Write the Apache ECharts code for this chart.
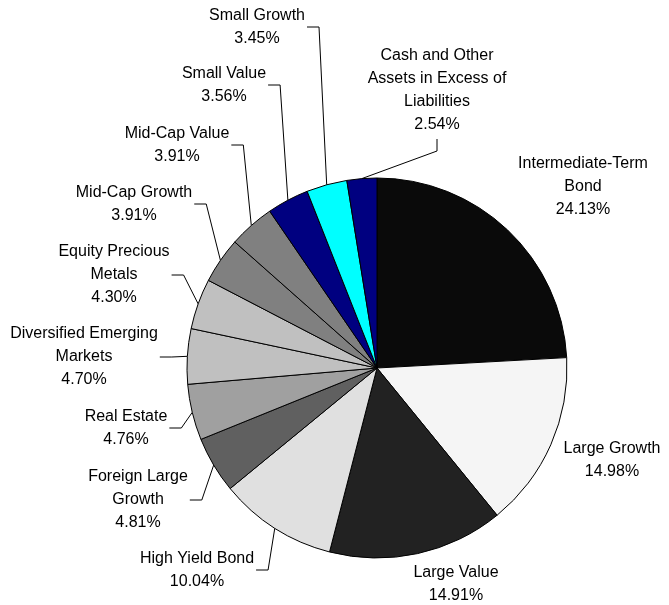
<!DOCTYPE html>
<html>
<head>
<meta charset="utf-8">
<script src="https://cdn.jsdelivr.net/npm/echarts@6/dist/echarts.min.js"></script>
<style>
html,body{margin:0;padding:0;background:#fff;}
#chart{width:669px;height:605px;}
</style>
</head>
<body>
<div id="chart"></div>
<script>
var categories = [
  "Intermediate-Term Bond", "Large Growth", "Large Value", "High Yield Bond",
  "Foreign Large Growth", "Real Estate", "Diversified Emerging Markets",
  "Equity Precious Metals", "Mid-Cap Growth", "Mid-Cap Value", "Small Value",
  "Small Growth", "Cash and Other Assets in Excess of Liabilities"
];
var labelTexts = [
  "Intermediate-Term\nBond", "Large Growth", "Large Value", "High Yield Bond",
  "Foreign Large\nGrowth", "Real Estate", "Diversified Emerging\nMarkets",
  "Equity Precious\nMetals", "Mid-Cap Growth", "Mid-Cap Value", "Small Value",
  "Small Growth", "Cash and Other\nAssets in Excess of\nLiabilities"
];
var values = [24.13, 14.98, 14.91, 10.04, 4.81, 4.76, 4.70, 4.30, 3.91, 3.91, 3.56, 3.45, 2.54];

var colors = ["#0a0a0a", "#f5f5f5", "#222222", "#e0e0e0", "#606060", "#a0a0a0", "#c0c0c0",
  "#c0c0c0", "#808080", "#808080", "#000080", "#00ffff", "#000080"];
var labelPos = [[583,187],[612,460],[456,584],[197,570],[138,500],[126,428],[84,357],
  [114,275],[134,204],[177,145],[224,85],[257,27],[437,90]];
var showLine = [false,false,false,true,true,true,true,true,true,true,true,true,true];
var lineSide = ['none','none','none','right','right','right','right','right','right','right','right','right','bottom'];

var data = categories.map(function (c, i) {
  return {
    name: c,
    value: values[i],
    itemStyle: { color: colors[i] },
    labelLine: { show: showLine[i] }
  };
});

var chart = echarts.init(document.getElementById('chart'), null, { renderer: 'canvas' });
chart.setOption({
  backgroundColor: '#ffffff',
  animation: false,
  series: [{
    type: 'pie',
    center: [377, 368],
    radius: 190,
    startAngle: 90,
    clockwise: true,
    avoidLabelOverlap: false,
    data: data,
    itemStyle: { borderColor: '#000', borderWidth: 1 },
    label: {
      show: true,
      position: 'outside',
      fontFamily: 'Liberation Sans, Arial, sans-serif',
      fontSize: 16,
      lineHeight: 23,
      color: '#000',
      align: 'center',
      formatter: function (p) {
        return labelTexts[p.dataIndex] + '\n' + p.value.toFixed(2) + '%';
      }
    },
    labelLine: {
      show: true,
      length: 10,
      length2: 12,
      smooth: false,
      lineStyle: { color: '#000', width: 1 }
    },
    labelLayout: function (p) {
      var i = p.dataIndex;
      var pos = labelPos[i];
      var out = { x: pos[0], y: pos[1], align: 'center', verticalAlign: 'middle' };
      var pts = p.labelLinePoints;
      if (pts && pts.length && lineSide[i] !== 'none') {
        var anchor = pts[0];
        var w = p.labelRect.width, h = p.labelRect.height;
        if (lineSide[i] === 'right') {
          var rx = pos[0] + w / 2 + 2;
          out.labelLinePoints = [[anchor[0], anchor[1]], [rx + 12, pos[1]], [rx, pos[1]]];
        } else {
          var by = pos[1] + h / 2 + 3;
          out.labelLinePoints = [[anchor[0], anchor[1]], [pos[0], by + 12], [pos[0], by]];
        }
      }
      return out;
    },
    emphasis: { disabled: true }
  }]
});
</script>
</body>
</html>
